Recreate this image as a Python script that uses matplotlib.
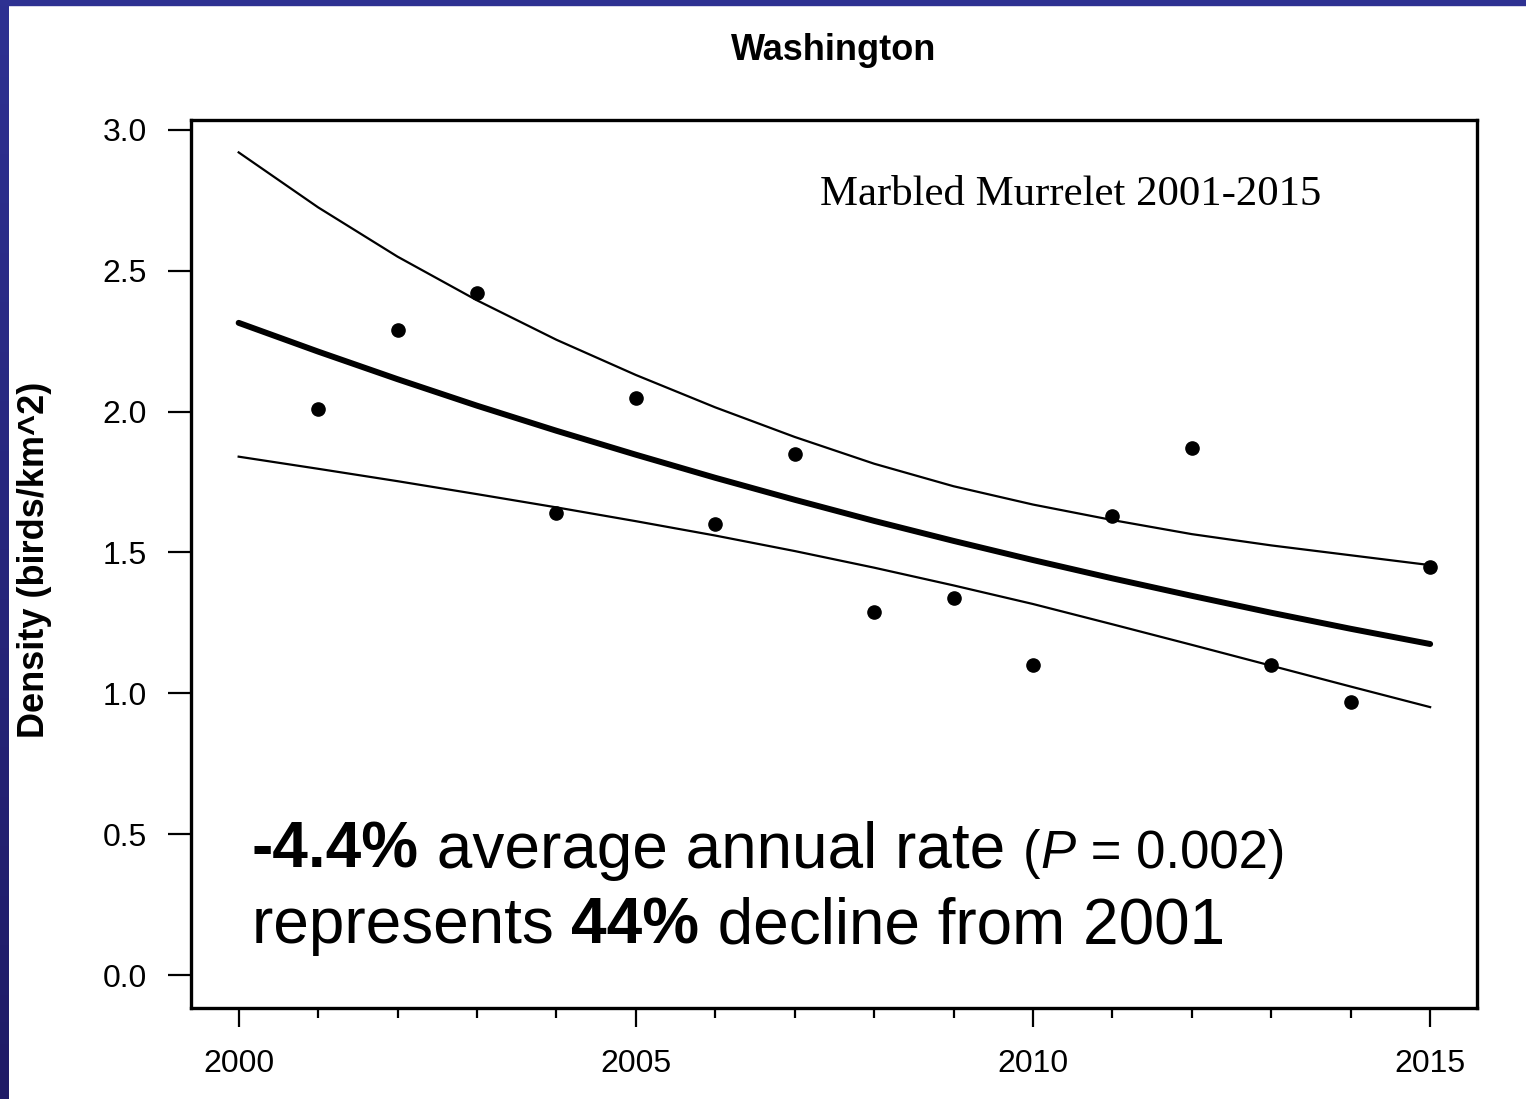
import numpy as np
import matplotlib.pyplot as plt
from matplotlib.colors import LinearSegmentedColormap
from matplotlib.patches import Rectangle

# Données
years = [2001, 2002, 2003, 2004, 2005, 2006, 2007, 2008,
         2009, 2010, 2011, 2012, 2013, 2014, 2015]
density = [2.01, 2.29, 2.42, 1.64, 2.05, 1.60, 1.85, 1.29,
           1.34, 1.10, 1.63, 1.87, 1.10, 0.97, 1.45]

fit_years = list(range(2000, 2016))
trend = [2.315, 2.213, 2.115, 2.021, 1.932, 1.847, 1.765, 1.687,
         1.612, 1.541, 1.473, 1.408, 1.346, 1.286, 1.229, 1.175]
upper = [2.92, 2.725, 2.55, 2.395, 2.255, 2.13, 2.015, 1.91,
         1.815, 1.735, 1.67, 1.615, 1.565, 1.525, 1.49, 1.455]
lower = [1.84, 1.797, 1.753, 1.707, 1.66, 1.611, 1.56, 1.505,
         1.446, 1.383, 1.317, 1.245, 1.172, 1.098, 1.024, 0.951]

y_ticks = [0.0, 0.5, 1.0, 1.5, 2.0, 2.5, 3.0]
x_major = [2000, 2005, 2010, 2015]

plt.rcParams['font.family'] = ['Liberation Sans', 'DejaVu Sans']

W, H = 1526, 1099
fig = plt.figure(figsize=(W / 100, H / 100), dpi=100)
fig.patch.set_facecolor('white')

# Bordure bleue (haut + gauche en dégradé)
fig.patches.append(Rectangle((0, 1 - 5 / H), 1, 5 / H, transform=fig.transFigure,
                             color='#2E3192', zorder=0))
strip = fig.add_axes([0, 0, 9 / W, 1])
cmap = LinearSegmentedColormap.from_list('bord', ['#2E3192', '#1F1B66'])
strip.imshow(np.linspace(0, 1, 200).reshape(-1, 1), aspect='auto', cmap=cmap)
strip.axis('off')

ax = fig.add_axes([191 / W, 1 - 1008 / H, (1477 - 191) / W, (1008 - 120) / H])
ax.set_xlim(1999.4, 2015.59)
ax.set_ylim(-0.117, 3.035)

ax.plot(fit_years, upper, color='black', lw=1.6)
ax.plot(fit_years, lower, color='black', lw=1.6)
ax.plot(fit_years, trend, color='black', lw=4.3, solid_capstyle='round')
ax.plot(years, density, 'o', color='black', ms=9.5)

for s in ax.spines.values():
    s.set_linewidth(2.4)

ax.set_yticks(y_ticks)
ax.set_yticklabels(['%.1f' % v for v in y_ticks])
ax.set_xticks(x_major)
ax.set_xticks(fit_years, minor=True)
ax.tick_params(axis='y', length=16.5, width=1.6, pad=15, labelsize=23)
ax.tick_params(axis='x', which='major', length=13.5, width=1.6, pad=16, labelsize=23)
ax.tick_params(axis='x', which='minor', length=7, width=1.6)

fig.text(834 / W, 1 - 60 / H, 'Washington', ha='center', va='baseline',
         fontsize=26, fontweight='bold')
fig.text(35 / W, 1 - 560 / H, 'Density (birds/km^2)', rotation=90,
         ha='center', va='center', fontsize=26, fontweight='bold')

fig.text(820 / W, 1 - 205 / H, 'Marbled Murrelet 2001-2015', fontsize=30.8,
         family=['Liberation Serif', 'DejaVu Serif'], va='baseline')

# Texte d'annotation en bas
fig.canvas.draw()
r = fig.canvas.get_renderer()


def suite(x_px, y_px, morceaux):
    # écrit des morceaux de texte à la suite sur une même ligne
    for txt, kw in morceaux:
        t = fig.text(x_px / W, 1 - y_px / H, txt, va='baseline', **kw)
        x_px = t.get_window_extent(r).x1


suite(252, 868, [('-4.4%', dict(fontsize=46, fontweight='bold')),
                 (' average annual rate ', dict(fontsize=46)),
                 ('(', dict(fontsize=38)),
                 ('P', dict(fontsize=38, style='italic')),
                 (' = 0.002)', dict(fontsize=38))])
suite(252, 943, [('represents ', dict(fontsize=46)),
                 ('44%', dict(fontsize=46, fontweight='bold')),
                 (' decline from 2001', dict(fontsize=46))])

fig.savefig('out.png', dpi=100)
